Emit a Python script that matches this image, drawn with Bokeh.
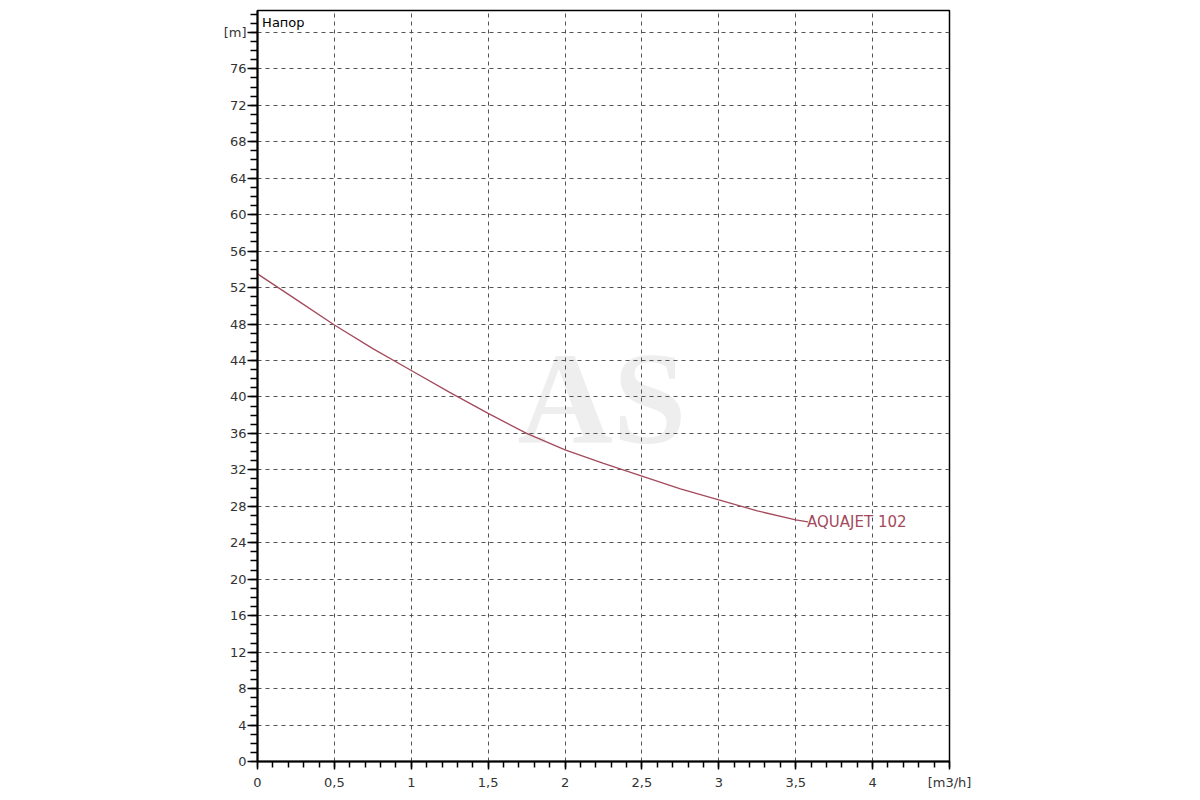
from bokeh.plotting import figure
from bokeh.models import FixedTicker, Label, ColumnDataSource
from bokeh.core.properties import value
from bokeh.embed import file_html
from bokeh.resources import INLINE

# ---- data ----
flow = [0.0, 0.25, 0.5, 0.75, 1.0, 1.25, 1.5, 1.75, 2.0, 2.25, 2.5, 2.75, 3.0, 3.25, 3.5, 3.58]
head = [53.5, 50.7, 47.9, 45.3, 42.9, 40.5, 38.2, 36.0, 34.2, 32.7, 31.3, 29.9, 28.7, 27.5, 26.5, 26.3]
series_name = "AQUAJET 102"
x_ticks = [0, 0.5, 1, 1.5, 2, 2.5, 3, 3.5, 4, 4.5]
x_tick_labels = ["0", "0,5", "1", "1,5", "2", "2,5", "3", "3,5", "4", "[m3/h]"]
y_ticks = list(range(0, 81, 4))
y_tick_labels = [str(v) for v in range(0, 80, 4)] + ["[m]"]
y_title = "Напор"
watermark = "AS"

curve_color = "#a34a5c"
font = "DejaVu Sans"

p = figure(width=1192, height=792, x_range=(0, 4.5), y_range=(0, 82.4),
           output_backend="svg", toolbar_location=None,
           min_border_left=257, min_border_right=243, min_border_top=10, min_border_bottom=30)
p.background_fill_color = "white"
p.border_fill_color = "white"
p.outline_line_color = "black"
p.outline_line_width = 1.5
p.outline_line_alpha = 1

# watermark below grid
wm = ColumnDataSource(dict(x=[2.24], y=[39.8], t=[watermark]))
p.text(x="x", y="y", text="t", source=wm, text_font=value("Liberation Serif"),
       text_font_size="132px", text_font_style="bold", text_color="#eeeeee",
       text_align="center", text_baseline="middle", level="image")

# axes
xa = p.xaxis[0]
xa.ticker = FixedTicker(ticks=x_ticks, minor_ticks=[i / 10 for i in range(0, 46)])
xa.major_label_overrides = {t: l for t, l in zip(x_ticks, x_tick_labels)}
ya = p.yaxis[0]
ya.ticker = FixedTicker(ticks=y_ticks, minor_ticks=list(range(0, 83)))
ya.major_label_overrides = {t: l for t, l in zip(y_ticks, y_tick_labels)}

for ax in (xa, ya):
    ax.axis_line_color = "black"
    ax.axis_line_width = 2
    ax.major_tick_line_color = "black"
    ax.major_tick_line_width = 1.5
    ax.minor_tick_line_color = "black"
    ax.minor_tick_line_width = 1.5
    ax.major_tick_in = 0
    ax.minor_tick_in = 0
    ax.major_label_text_font = font
    ax.major_label_text_font_size = "13px"
    ax.major_label_text_color = "#333333"
xa.major_tick_out = 8
xa.minor_tick_out = 6
xa.major_label_standoff = 5
ya.major_tick_out = 10
ya.minor_tick_out = 7
ya.major_label_standoff = 1

for g in (p.xgrid[0], p.ygrid[0]):
    g.grid_line_color = "#555555"
    g.grid_line_dash = "4 4"
    g.grid_line_width = 1

# curve
src = ColumnDataSource(dict(x=flow, y=head))
p.line(x="x", y="y", source=src, line_color=curve_color, line_width=1.3)

p.add_layout(Label(x=flow[-1], y=head[-1], text=series_name, x_offset=-1,
                   text_font=font, text_font_size="15px", text_color=curve_color,
                   text_baseline="middle", text_align="left"))
p.add_layout(Label(x=0.03, y=81.1, text=y_title, text_font=font,
                   text_font_size="13px", text_color="black",
                   text_baseline="middle", text_align="left"))

open("out.html", "w").write(file_html(p, INLINE))
